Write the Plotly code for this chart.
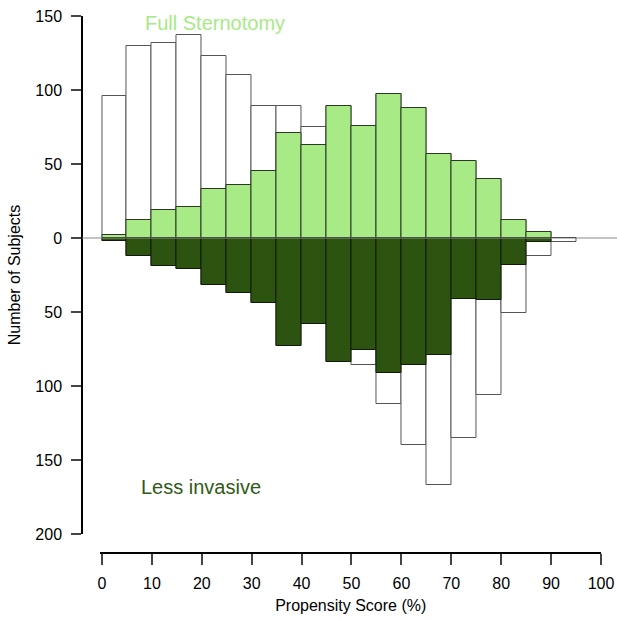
import plotly.graph_objects as go

bin_starts = [0, 5, 10, 15, 20, 25, 30, 35, 40, 45, 50, 55, 60, 65, 70, 75, 80, 85, 90]
fs_total = [96, 130, 132, 137, 123, 110, 89, 89, 75, 89, 76, 97, 88, 57, 52, 40, 12, 4, 0]
fs_matched = [2, 12, 19, 21, 33, 36, 45, 71, 63, 89, 76, 97, 88, 57, 52, 40, 12, 4, 0]
li_total = [2, 12, 19, 21, 32, 37, 44, 73, 58, 84, 86, 112, 140, 167, 135, 106, 51, 12, 3]
li_matched = [2, 12, 19, 21, 32, 37, 44, 73, 58, 84, 76, 91, 86, 79, 41, 42, 18, 3, 0]

y_tickvals = [-200, -150, -100, -50, 0, 50, 100, 150]
y_ticktext = ["200", "150", "100", "50", "0", "50", "100", "150"]
x_tickvals = [0, 10, 20, 30, 40, 50, 60, 70, 80, 90, 100]

bw = 5
centers = [b + bw / 2 for b in bin_starts]

light = "#a7ea86"
dark = "#2c5410"

fig = go.Figure()
fig.add_trace(go.Bar(x=centers, y=fs_total, width=bw, marker=dict(color="white", line=dict(color="#555555", width=1))))
fig.add_trace(go.Bar(x=centers, y=[-v for v in li_total], width=bw, marker=dict(color="white", line=dict(color="#555555", width=1))))
fig.add_trace(go.Bar(x=centers, y=fs_matched, width=bw, marker=dict(color=light, line=dict(color="#2a3a22", width=1))))
fig.add_trace(go.Bar(x=centers, y=[-v for v in li_matched], width=bw, marker=dict(color=dark, line=dict(color="#111a0a", width=1))))

fig.add_shape(type="line", xref="paper", yref="y", x0=0, x1=1.04, y0=0, y1=0,
              line=dict(color="#888888", width=1.2), layer="above")

fig.add_annotation(x=22.7, y=145.5, xref="x", yref="y", text="Full Sternotomy", showarrow=False,
                   font=dict(size=20, color="#a7ea86", family="Liberation Sans, Arial"), xanchor="center", yanchor="middle")
fig.add_annotation(x=19.9, y=-168.5, xref="x", yref="y", text="Less invasive", showarrow=False,
                   font=dict(size=20, color="#2f5a14", family="Liberation Sans, Arial"), xanchor="center", yanchor="middle")

fig.update_layout(
    width=617, height=620,
    margin=dict(l=82, r=16, t=16, b=67),
    barmode="overlay",
    bargap=0,
    showlegend=False,
    hovermode=False,
    plot_bgcolor="white", paper_bgcolor="white",
    font=dict(family="Liberation Sans, Arial", size=16, color="black"),
    xaxis=dict(domain=[0.0356, 1], range=[-0.3, 100], anchor="free", position=0, automargin=False,
               tickvals=x_tickvals, ticks="outside", ticklen=11, tickwidth=1.5, ticklabelstandoff=5,
               showline=True, linecolor="black", linewidth=1.5, showgrid=False, zeroline=False,
               title=dict(text="Propensity Score (%)", font=dict(size=16), standoff=8),
               tickfont=dict(size=16)),
    yaxis=dict(domain=[0.0354, 1], range=[-200, 150], anchor="free", position=0, automargin=False,
               tickvals=y_tickvals, ticktext=y_ticktext, ticks="outside", ticklen=10, tickwidth=1.5,
               ticklabelstandoff=6,
               showline=True, linecolor="black", linewidth=1.5, showgrid=False, zeroline=False,
               title=dict(text="Number of Subjects", font=dict(size=16), standoff=10),
               tickfont=dict(size=16)),
)

fig.write_html("out.html", config={"displayModeBar": False},
               post_script="document.body.style.margin='0';document.body.style.overflow='hidden';")
